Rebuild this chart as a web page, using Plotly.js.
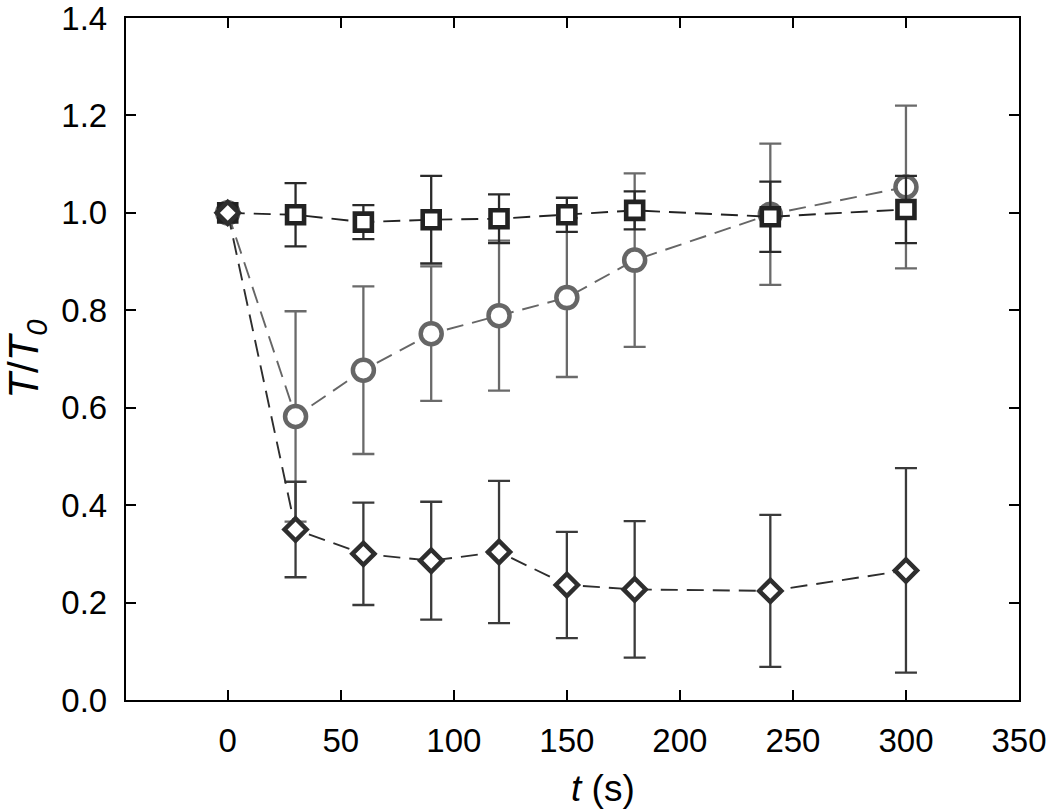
<!DOCTYPE html>
<html>
<head>
<meta charset="utf-8">
<script src="https://cdn.plot.ly/plotly-3.0.1.min.js"></script>
<style>html,body{margin:0;padding:0;background:#fff;}#chart{width:1050px;height:811px;}</style>
</head>
<body>
<div id="chart"></div>
<script>
const t = [0, 30, 60, 90, 120, 150, 180, 240, 300];

const squareY   = [1.000, 0.996, 0.981, 0.986, 0.988, 0.996, 1.005, 0.992, 1.007];
const squareErr = [0.000, 0.065, 0.035, 0.090, 0.050, 0.035, 0.039, 0.072, 0.069];

const circleY   = [1.000, 0.582, 0.677, 0.752, 0.789, 0.826, 0.903, 0.997, 1.053];
const circleErr = [0.000, 0.216, 0.172, 0.138, 0.154, 0.163, 0.178, 0.145, 0.167];

const diamondY   = [1.000, 0.350, 0.300, 0.286, 0.304, 0.236, 0.227, 0.224, 0.266];
const diamondErr = [0.000, 0.098, 0.105, 0.121, 0.146, 0.109, 0.140, 0.156, 0.210];

const xTicks = [0, 50, 100, 150, 200, 250, 300, 350];
const yTicks = [0.0, 0.2, 0.4, 0.6, 0.8, 1.0, 1.2, 1.4];

const dash = '17px,9px';
const font = 'Liberation Sans, Arial, sans-serif';

function series(y, err, color, barColor, symbol, size, lw) {
  return {
    x: t, y: y, type: 'scatter', mode: 'lines+markers',
    line: {color: color, width: 1.9, dash: dash},
    marker: {symbol: symbol, size: size, color: '#ffffff', line: {color: color, width: lw}},
    error_y: {type: 'data', array: err, visible: true, color: barColor, thickness: 2.3, width: 11},
    showlegend: false, cliponaxis: false
  };
}

const data = [
  series(circleY, circleErr, '#666666', '#6a6a6a', 'circle', 21, 4.5),
  series(squareY, squareErr, '#222222', '#2a2a2a', 'square', 17, 4.6),
  series(diamondY, diamondErr, '#2e2e2e', '#3a3a3a', 'diamond', 17, 4.5)
];

const layout = {
  width: 1050, height: 811,
  margin: {l: 126, r: 31, t: 18, b: 111},
  paper_bgcolor: '#ffffff', plot_bgcolor: '#ffffff',
  font: {family: font, color: '#000000', size: 33},
  xaxis: {
    range: [-45, 350], tickvals: xTicks, ticktext: xTicks.map(String),
    ticks: 'inside', ticklen: 10, tickwidth: 2, tickcolor: '#000',
    showline: true, linewidth: 2.2, linecolor: '#000', mirror: 'ticks',
    showgrid: false, zeroline: false,
    tickfont: {family: font, size: 33, color: '#000'},
    ticklabelstandoff: 10, ticklabeloverflow: 'allow'
  },
  yaxis: {
    range: [0, 1.4], tickvals: yTicks, ticktext: yTicks.map(v => v.toFixed(1)),
    ticks: 'inside', ticklen: 10, tickwidth: 2, tickcolor: '#000',
    showline: true, linewidth: 2.2, linecolor: '#000', mirror: 'ticks',
    showgrid: false, zeroline: false,
    tickfont: {family: font, size: 33, color: '#000'},
    ticklabelstandoff: 10, ticklabeloverflow: 'allow',
    title: {text: '<i>T</i>/<i>T</i><sub><i>0</i></sub>', font: {family: font, size: 42, color: '#000'}, standoff: 14}
  },
  annotations: [{
    xref: 'paper', yref: 'paper', x: 0.534, y: 0, yshift: -88,
    xanchor: 'center', yanchor: 'middle', showarrow: false,
    text: '<i>t</i> (s)', font: {family: font, size: 37, color: '#000'}
  }]
};

Plotly.newPlot('chart', data, layout, {displayModeBar: false, staticPlot: true});
</script>
</body>
</html>
